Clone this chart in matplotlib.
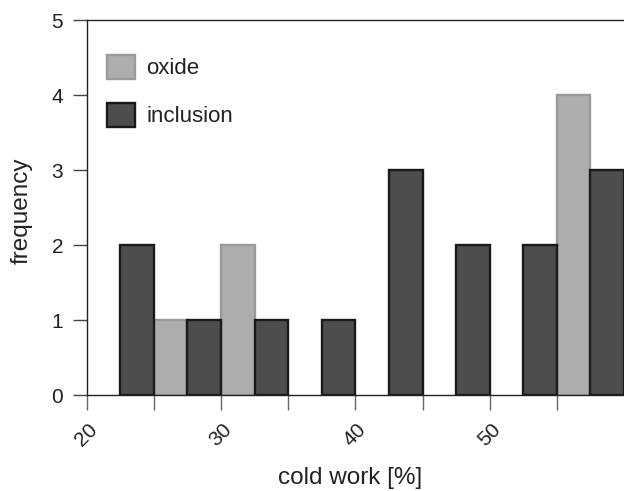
import numpy as np
import matplotlib
matplotlib.use("Agg")
import matplotlib.pyplot as plt
from matplotlib.patches import Patch

plt.rcParams['font.family'] = ['Liberation Sans', 'DejaVu Sans']

# -------------------------------------------------------
# DATOS
# -------------------------------------------------------
bin_width = 2.5
inclusion_left = [22.5, 27.5, 32.5, 37.5, 42.5, 47.5, 52.5, 57.5]
inclusion_freq = [2, 1, 1, 1, 3, 2, 2, 3]
oxide_left = [25.0, 30.0, 55.0]
oxide_freq = [1, 2, 4]
major_ticks = [20, 30, 40, 50]
minor_ticks = [25, 35, 45, 55]

OXIDE_FC, OXIDE_EC = '#adadad', '#9a9a9a'
INCL_FC, INCL_EC = '#4d4d4d', '#1a1a1a'

# -------------------------------------------------------
# FIGURA
# -------------------------------------------------------
fig = plt.figure(figsize=(6.24, 4.91), dpi=100)
ax = fig.add_axes([0.139, 0.195, 0.861, 0.764])

ax.bar(oxide_left, oxide_freq, width=bin_width, align='edge',
       color=OXIDE_FC, edgecolor=OXIDE_EC, lw=1.7)
ax.bar(inclusion_left, inclusion_freq, width=bin_width, align='edge',
       color=INCL_FC, edgecolor=INCL_EC, lw=1.7)

ax.set_xlim(20, 60)
ax.set_ylim(0, 5)
ax.spines['right'].set_visible(False)
for s in ['left', 'top', 'bottom']:
    ax.spines[s].set_linewidth(1.0)
    ax.spines[s].set_color('#222222')

ax.set_xticks(major_ticks)
ax.set_xticklabels([str(t) for t in major_ticks], rotation=45,
                   ha='center', va='top', fontsize=15, color='#222222')
ax.set_xticks(minor_ticks, minor=True)
ax.tick_params(axis='x', which='both', direction='out', length=10.8,
               width=1.0, color='#666666', pad=7)
ax.set_yticks(range(6))
ax.tick_params(axis='y', direction='out', length=10, width=1.0,
               labelsize=15, color='#444444', labelcolor='#222222', pad=7)

ax.set_xlabel('cold work [%]', fontsize=17.5, color='#222222')
ax.xaxis.set_label_coords(0.49, -0.19)
ax.set_ylabel('frequency', fontsize=17.5, color='#222222')
ax.yaxis.set_label_coords(-0.10, 0.493)

handles = [Patch(facecolor=OXIDE_FC, edgecolor=OXIDE_EC, lw=1.7, label='oxide'),
           Patch(facecolor=INCL_FC, edgecolor=INCL_EC, lw=1.7, label='inclusion')]
leg = ax.legend(handles=handles, loc='upper left', frameon=False, fontsize=16,
                handlelength=1.26, handleheight=1.26, handletextpad=0.5,
                labelspacing=1.08, borderpad=0.4, borderaxespad=0.0,
                bbox_to_anchor=(0.022, 0.931))
for t in leg.get_texts():
    t.set_color('#222222')

fig.savefig('out.png', dpi=100)
